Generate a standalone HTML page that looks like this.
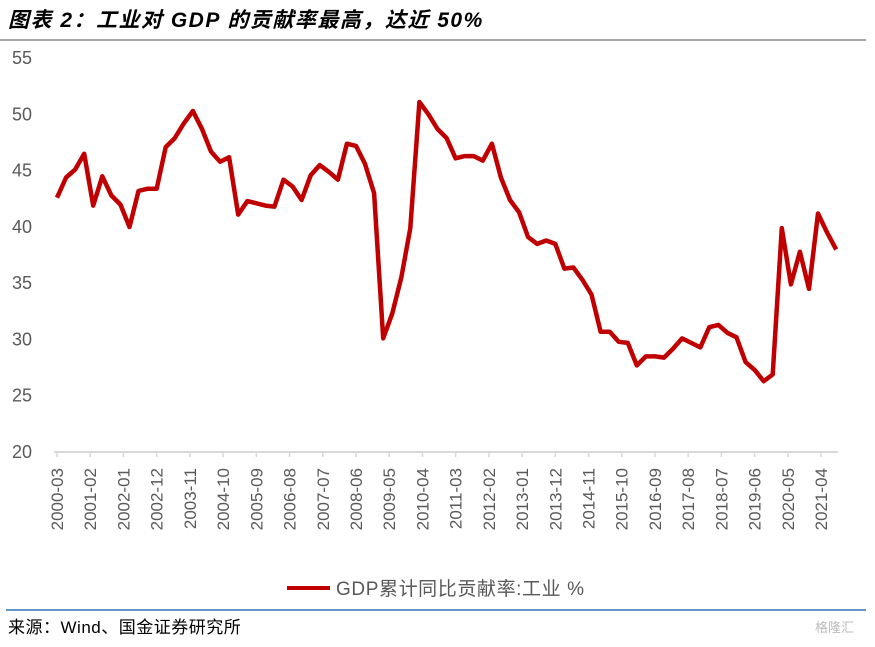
<!DOCTYPE html>
<html><head><meta charset="utf-8"><style>
body{margin:0;background:#fff;width:875px;height:642px;overflow:hidden;font-family:"Liberation Sans","Noto Sans CJK SC",sans-serif}
</style></head><body>
<svg width="875" height="642" xmlns="http://www.w3.org/2000/svg">
<text x="8" y="27" font-size="21" font-weight="bold" font-style="italic" fill="#000" letter-spacing="1.5" font-family="Liberation Sans, Noto Sans CJK SC, sans-serif">图表 2：工业对 GDP 的贡献率最高，达近 50%</text>
<line x1="0" y1="40" x2="866" y2="40" stroke="#555" stroke-width="1"/>
<g id="yaxis"></g>
<g id="xaxis"></g>
<g id="plot"></g>
<g>
<line x1="287" y1="588" x2="330" y2="588" stroke="#c00000" stroke-width="4"/>
<text x="336" y="595" font-size="19" fill="#595959" letter-spacing="0.6">GDP累计同比贡献率:工业 %</text>
</g>
<line x1="6" y1="610" x2="866" y2="610" stroke="#2e75b6" stroke-width="1.5"/>
<text x="8" y="633" font-size="17" fill="#000" letter-spacing="0.5">来源：Wind、国金证券研究所</text>
<text x="815" y="632" font-size="13" fill="#bbb">格隆汇</text>
</svg>
<script>
const yTicks=[20,25,30,35,40,45,50,55];
const xTickLabels=["2000-03","2001-02","2002-01","2002-12","2003-11","2004-10","2005-09","2006-08","2007-07","2008-06","2009-05","2010-04","2011-03","2012-02","2013-01","2013-12","2014-11","2015-10","2016-09","2017-08","2018-07","2019-06","2020-05","2021-04"];
const values=[42.5,44.3,45.0,46.4,41.8,44.4,42.7,41.9,39.9,43.1,43.3,43.3,47.0,47.8,49.1,50.2,48.6,46.6,45.7,46.1,41.0,42.2,42.0,41.8,41.7,44.1,43.5,42.3,44.5,45.4,44.8,44.1,
47.3,47.1,45.5,42.9,30.0,32.2,35.4,39.8,51.0,49.9,48.6,47.8,46.0,46.2,46.2,45.8,47.3,44.3,42.3,41.2,39.0,38.4,38.7,38.4,36.2,36.3,35.2,33.9,
30.6,30.6,29.7,29.6,27.6,28.4,28.4,28.3,29.1,30.0,29.6,29.2,31.0,31.2,30.5,30.1,27.9,27.2,26.2,26.8,39.8,34.8,37.7,34.4,41.1,39.4,37.9];
const NS='http://www.w3.org/2000/svg';
const x0=57,pxPerMonth=3.02,yTop=57,yBot=451;
function xMonth(m){return x0+m*pxPerMonth;}
function y(v){return yBot-(v-20)/(55-20)*(yBot-yTop);}
function mk(t,a,p){const e=document.createElementNS(NS,t);for(const k in a)e.setAttribute(k,a[k]);p.appendChild(e);return e;}
const ya=document.getElementById('yaxis'),xa=document.getElementById('xaxis'),pl=document.getElementById('plot');
yTicks.forEach(v=>{const t=mk('text',{x:32,y:y(v)+7,'font-size':18,fill:'#595959','text-anchor':'end'},ya);t.textContent=v;

});
const axl=mk('line',{x1:x0-3,y1:yBot+1,x2:838,y2:yBot+1,stroke:'#d9d9d9','stroke-width':2},xa);


xTickLabels.forEach((s,i)=>{const xx=xMonth(i*11);
const tk=mk('line',{x1:xx,y1:yBot,x2:xx,y2:yBot+6,stroke:'#d9d9d9','stroke-width':1.5},xa);


const t=mk('text',{x:0,y:0,'font-size':17,fill:'#595959','text-anchor':'end',transform:`translate(${xx+6},${yBot+17}) rotate(-90)`},xa);t.textContent=s;

});
const pts=values.map((v,i)=>xMonth(i*3).toFixed(1)+','+y(v).toFixed(1)).join(' ');
const line=mk('polyline',{points:pts,fill:'none',stroke:'#c00000','stroke-width':4.5,'stroke-linejoin':'round'},pl);


</script>
</body></html>
